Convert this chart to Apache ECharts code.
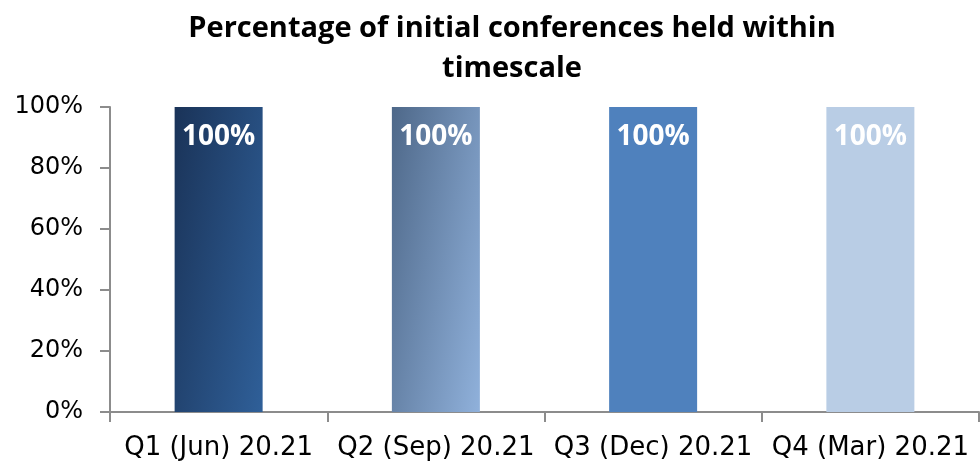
<!DOCTYPE html>
<html>
<head>
<meta charset="utf-8">
<script src="https://cdn.jsdelivr.net/npm/echarts@6/dist/echarts.min.js"></script>
<style>
  html, body { margin: 0; padding: 0; background: #fff; }
  #chart { width: 980px; height: 466px; }
</style>
</head>
<body>
<div id="chart"></div>
<script>
const categories = ["Q1 (Jun) 20.21", "Q2 (Sep) 20.21", "Q3 (Dec) 20.21", "Q4 (Mar) 20.21"];
const values = [100, 100, 100, 100];
const yTicks = [0, 20, 40, 60, 80, 100];

// bar fills, one per quarter (top-left colour, bottom-right colour)
const fills = [
    ["#1a3358", "#2f5f98"],
    ["#4e6889", "#8fb0da"],
    ["#4f81bd", "#4f81bd"],
    ["#b9cde5", "#b9cde5"],
];

const chart = echarts.init(document.getElementById("chart"));
const axisFont = "'DejaVu Sans', sans-serif";

chart.setOption({
    animation: false,
    backgroundColor: "#fff",
    title: {
        text: "Percentage of initial conferences held within\ntimescale",
        left: 507,
        textAlign: "center",
        top: 4,
        textStyle: {
            fontFamily: "'Open Sans', sans-serif",
            fontWeight: "bold",
            fontSize: 29,
            lineHeight: 40,
            color: "#000",
        },
    },
    grid: {
        left: 110,
        right: 1,
        top: 107,
        bottom: 54,
    },
    xAxis: {
        type: "category",
        data: categories,
        axisLine: { lineStyle: { color: "#8c8c8c", width: 2 } },
        axisTick: { show: true, length: 10, lineStyle: { color: "#8c8c8c", width: 2 } },
        axisLabel: {
            fontFamily: axisFont,
            fontSize: 26,
            color: "#000",
            margin: 23,
            interval: 0,
        },
    },
    yAxis: {
        type: "value",
        min: yTicks[0],
        max: yTicks[yTicks.length - 1],
        interval: 20,
        axisLine: { show: true, lineStyle: { color: "#8c8c8c", width: 2 } },
        axisTick: { show: true, length: 10, lineStyle: { color: "#8c8c8c", width: 2 } },
        splitLine: { show: false },
        axisLabel: {
            fontFamily: axisFont,
            fontSize: 24,
            color: "#000",
            margin: 27,
            formatter: v => v + "%",
        },
    },
    series: [
        {
            type: "bar",
            barWidth: 88,
            data: values.map((v, i) => ({
                value: v,
                itemStyle: {
                    // mostly left-to-right shading, slightly lighter towards the bottom
                    color: new echarts.graphic.LinearGradient(0, 0, 1.55, 0.08, [
                        { offset: 0, color: fills[i][0] },
                        { offset: 1, color: fills[i][1] },
                    ]),
                },
            })),
            label: {
                show: true,
                position: "insideTop",
                distance: 16,
                formatter: p => p.value + "%",
                fontFamily: "'Open Sans', sans-serif",
                fontWeight: "bold",
                fontSize: 28,
                color: "#fff",
            },
        },
    ],
});
</script>
</body>
</html>
